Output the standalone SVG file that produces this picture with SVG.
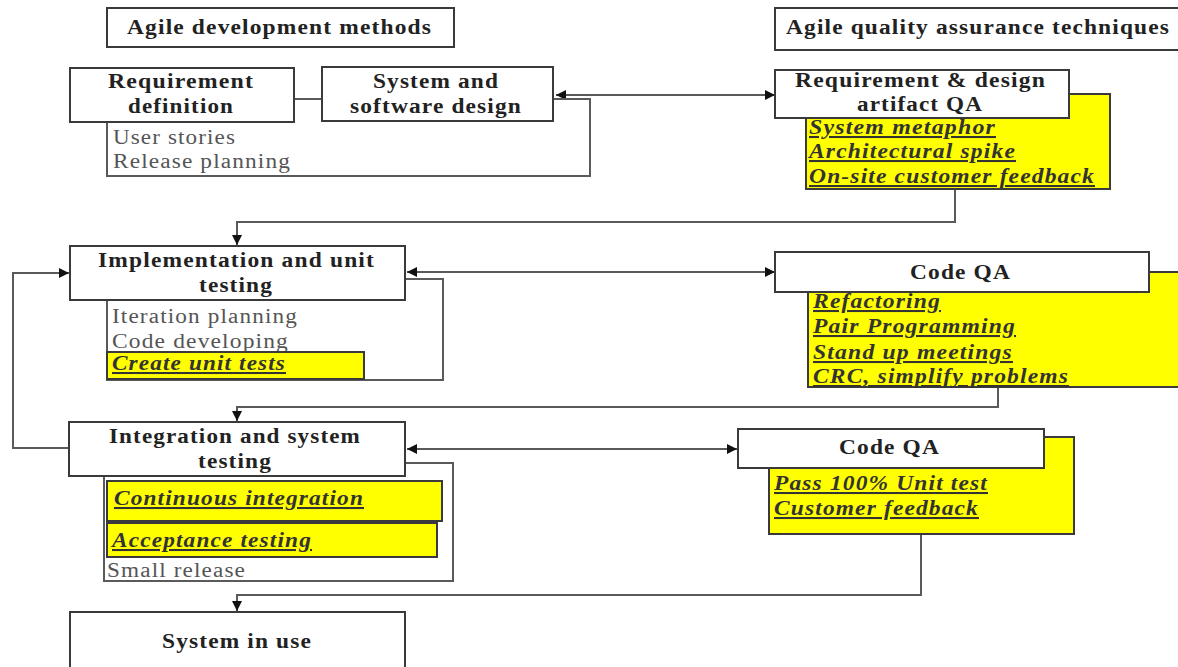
<svg xmlns="http://www.w3.org/2000/svg" width="1178" height="667" viewBox="0 0 1178 667">
<style>
.box{fill:#fff;stroke:#3a3a3a;stroke-width:2}
.yel{fill:#ffff00;stroke:#3a3a3a;stroke-width:2}
.t{font-family:"Liberation Serif","Times New Roman",serif;font-size:20.5px;font-weight:bold;fill:#222;letter-spacing:1px}
.s{font-family:"Liberation Serif","Times New Roman",serif;font-size:20.5px;fill:#555;letter-spacing:1px}
.y{font-family:"Liberation Serif","Times New Roman",serif;font-size:20.5px;font-weight:bold;font-style:italic;fill:#333;text-decoration:underline;letter-spacing:1px}
.c{fill:none;stroke:#5a5a5a;stroke-width:2}
</style>
<defs>
<marker id="ah" viewBox="0 0 10 10" refX="10" refY="5" markerWidth="5" markerHeight="5" orient="auto-start-reverse">
<path d="M0,0 L10,5 L0,10 z" fill="#111"/>
</marker>
</defs>
<rect width="1178" height="667" fill="#fff"/>

<g id="connectors">
<line class="c" x1="294" y1="99" x2="322" y2="99"/>
<line class="c" x1="556" y1="95" x2="775" y2="95" marker-start="url(#ah)" marker-end="url(#ah)"/>
<path class="c" d="M553,99 H590 V176 H107 V122"/>
<path class="c" d="M955,189 V222 H237 V245" marker-end="url(#ah)"/>
<line class="c" x1="407" y1="272" x2="775" y2="272" marker-start="url(#ah)" marker-end="url(#ah)"/>
<path class="c" d="M405,279 H443 V380 H107 V300"/>
<path class="c" d="M998,387 V407 H237 V421" marker-end="url(#ah)"/>
<path class="c" d="M69,448 H13 V273 H69" marker-end="url(#ah)"/>
<line class="c" x1="407" y1="449" x2="737" y2="449" marker-start="url(#ah)" marker-end="url(#ah)"/>
<path class="c" d="M405,463 H453 V581 H104 V476"/>
<path class="c" d="M921,534 V595 H237 V611" marker-end="url(#ah)"/>
</g>

<g id="agile-dev-methods">
<rect class="box" x="107" y="8" width="347" height="39"/>
<text class="t" x="127" y="34" textLength="305" lengthAdjust="spacingAndGlyphs">Agile development methods</text>
</g>

<g id="agile-qa-techniques">
<rect class="box" x="775" y="8" width="410" height="42"/>
<text class="t" x="786" y="34" textLength="384" lengthAdjust="spacingAndGlyphs">Agile quality assurance techniques</text>
</g>

<g id="requirement-definition">
<rect class="box" x="70" y="68" width="224" height="54"/>
<text class="t" x="108" y="88" textLength="146" lengthAdjust="spacingAndGlyphs">Requirement</text>
<text class="t" x="128" y="113" textLength="106" lengthAdjust="spacingAndGlyphs">definition</text>
<text class="s" x="113" y="144" textLength="123" lengthAdjust="spacingAndGlyphs">User stories</text>
<text class="s" x="113" y="168" textLength="178" lengthAdjust="spacingAndGlyphs">Release planning</text>
</g>

<g id="system-software-design">
<rect class="box" x="322" y="67" width="231" height="54"/>
<text class="t" x="373" y="88" textLength="126" lengthAdjust="spacingAndGlyphs">System and</text>
<text class="t" x="350" y="113" textLength="172" lengthAdjust="spacingAndGlyphs">software design</text>
</g>

<g id="req-design-qa">
<rect class="yel" x="806" y="94" width="304" height="95"/>
<rect class="box" x="775" y="70" width="294" height="48"/>
<text class="t" x="795" y="87" textLength="251" lengthAdjust="spacingAndGlyphs">Requirement &amp; design</text>
<text class="t" x="857" y="111" textLength="126" lengthAdjust="spacingAndGlyphs">artifact QA</text>
<text class="y" x="809" y="134" textLength="187" lengthAdjust="spacingAndGlyphs">System metaphor</text>
<text class="y" x="809" y="158" textLength="207" lengthAdjust="spacingAndGlyphs">Architectural spike</text>
<text class="y" x="809" y="183" textLength="286" lengthAdjust="spacingAndGlyphs">On-site customer feedback</text>
</g>

<g id="implementation-unit-testing">
<rect class="box" x="70" y="246" width="335" height="54"/>
<text class="t" x="98" y="267" textLength="277" lengthAdjust="spacingAndGlyphs">Implementation and unit</text>
<text class="t" x="199" y="292" textLength="74" lengthAdjust="spacingAndGlyphs">testing</text>
<text class="s" x="112" y="323" textLength="186" lengthAdjust="spacingAndGlyphs">Iteration planning</text>
<text class="s" x="112" y="348" textLength="177" lengthAdjust="spacingAndGlyphs">Code developing</text>
<rect class="yel" x="107" y="352" width="257" height="27"/>
<text class="y" x="112" y="370" textLength="174" lengthAdjust="spacingAndGlyphs">Create unit tests</text>
</g>

<g id="code-qa-1">
<rect class="yel" x="808" y="272" width="380" height="115"/>
<rect class="box" x="775" y="252" width="374" height="40"/>
<text class="t" x="910" y="279" textLength="101" lengthAdjust="spacingAndGlyphs">Code QA</text>
<text class="y" x="813" y="308" textLength="128" lengthAdjust="spacingAndGlyphs">Refactoring</text>
<text class="y" x="813" y="333" textLength="203" lengthAdjust="spacingAndGlyphs">Pair Programming</text>
<text class="y" x="813" y="359" textLength="200" lengthAdjust="spacingAndGlyphs">Stand up meetings</text>
<text class="y" x="813" y="383" textLength="256" lengthAdjust="spacingAndGlyphs">CRC, simplify problems</text>
</g>

<g id="integration-system-testing">
<rect class="box" x="69" y="422" width="336" height="54"/>
<text class="t" x="109" y="443" textLength="252" lengthAdjust="spacingAndGlyphs">Integration and system</text>
<text class="t" x="198" y="468" textLength="74" lengthAdjust="spacingAndGlyphs">testing</text>
<rect class="yel" x="107" y="481" width="335" height="40"/>
<text class="y" x="114" y="505" textLength="250" lengthAdjust="spacingAndGlyphs">Continuous integration</text>
<rect class="yel" x="107" y="523" width="330" height="34"/>
<text class="y" x="112" y="547" textLength="200" lengthAdjust="spacingAndGlyphs">Acceptance testing</text>
<text class="s" x="107" y="577" textLength="139" lengthAdjust="spacingAndGlyphs">Small release</text>
</g>

<g id="code-qa-2">
<rect class="yel" x="769" y="437" width="305" height="97"/>
<rect class="box" x="738" y="429" width="306" height="39"/>
<text class="t" x="839" y="454" textLength="101" lengthAdjust="spacingAndGlyphs">Code QA</text>
<text class="y" x="774" y="490" textLength="214" lengthAdjust="spacingAndGlyphs">Pass 100% Unit test</text>
<text class="y" x="774" y="515" textLength="205" lengthAdjust="spacingAndGlyphs">Customer feedback</text>
</g>

<g id="system-in-use">
<rect class="box" x="70" y="612" width="335" height="70"/>
<text class="t" x="162" y="648" textLength="150" lengthAdjust="spacingAndGlyphs">System in use</text>
</g>
</svg>
